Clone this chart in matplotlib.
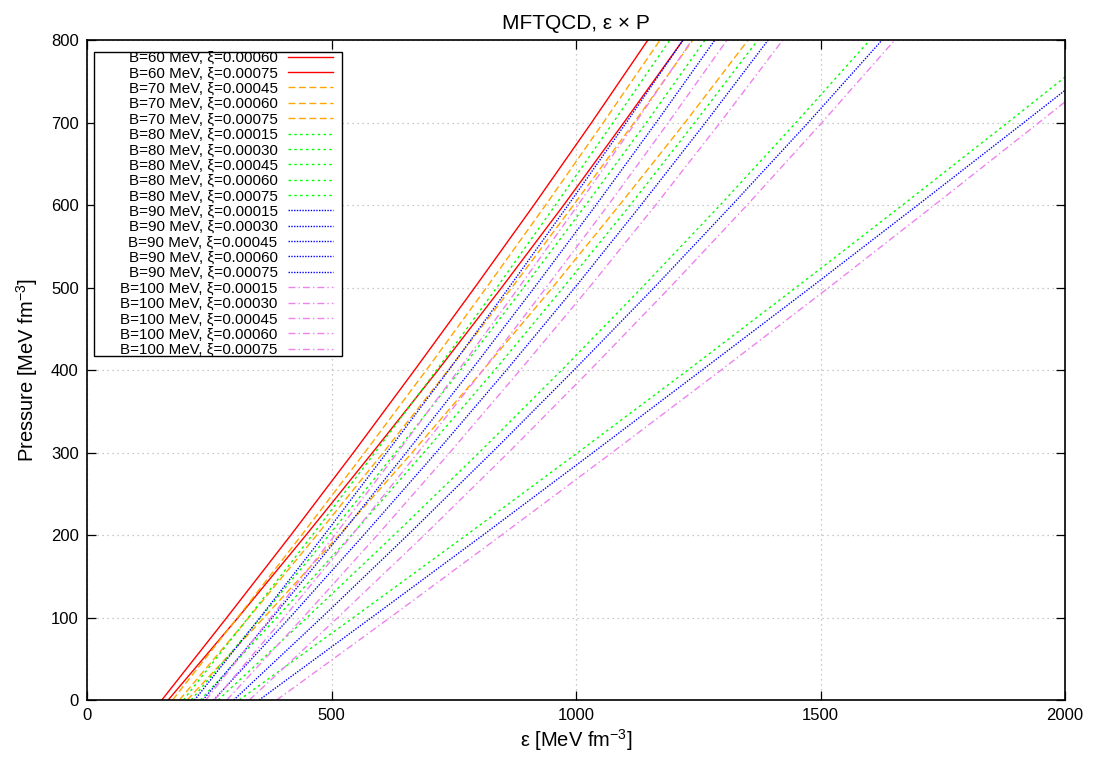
import matplotlib
matplotlib.use("Agg")
import matplotlib.pyplot as plt
from matplotlib.patches import Rectangle

plt.rcParams['font.family'] = ['Liberation Sans', 'DejaVu Sans']
plt.rcParams['mathtext.fontset'] = 'custom'
plt.rcParams['mathtext.rm'] = 'Liberation Sans'
plt.rcParams['mathtext.it'] = 'Liberation Sans:italic'
plt.rcParams['mathtext.default'] = 'regular'

# ---------------- data (pressure levels and energy densities) ----------------
P_levels = [0, 100, 200, 300, 400, 500, 600, 700, 800]

eps_B60_x060 = [166, 309, 448, 584, 718, 848, 975, 1098, 1219]
eps_B60_x075 = [153, 286, 417, 545, 670, 793, 914, 1032, 1147]

eps_B70_x045 = [205, 362, 516, 665, 810, 952, 1089, 1223, 1352]
eps_B70_x060 = [189, 331, 470, 606, 739, 869, 995, 1119, 1239]
eps_B70_x075 = [175, 308, 439, 568, 694, 817, 938, 1056, 1172]

P_B80_x015 = [0, 100, 200, 300, 400, 500, 600, 700, 755]
eps_B80_x015 = [311, 545, 776, 1004, 1229, 1450, 1668, 1883, 2000]
eps_B80_x030 = [268, 450, 628, 802, 971, 1135, 1295, 1450, 1601]
eps_B80_x045 = [232, 388, 541, 689, 834, 974, 1111, 1243, 1372]
eps_B80_x060 = [213, 355, 495, 631, 764, 893, 1020, 1144, 1264]
eps_B80_x075 = [197, 330, 461, 589, 715, 838, 958, 1076, 1192]

P_B90_x015 = [0, 100, 200, 300, 400, 500, 600, 700, 739]
eps_B90_x015 = [352, 582, 810, 1035, 1258, 1480, 1699, 1916, 2000]
eps_B90_x030 = [300, 480, 656, 828, 996, 1160, 1319, 1475, 1626]
eps_B90_x045 = [259, 415, 566, 714, 858, 998, 1133, 1265, 1393]
eps_B90_x060 = [237, 379, 518, 653, 786, 915, 1041, 1164, 1284]
eps_B90_x075 = [220, 354, 485, 613, 740, 863, 984, 1103, 1219]

P_B100_x015 = [0, 100, 200, 300, 400, 500, 600, 700, 725]
eps_B100_x015 = [388, 620, 848, 1074, 1297, 1517, 1733, 1947, 2000]
eps_B100_x030 = [332, 513, 690, 862, 1029, 1192, 1350, 1503, 1652]
eps_B100_x045 = [286, 442, 594, 742, 886, 1027, 1163, 1295, 1423]
eps_B100_x060 = [261, 403, 542, 677, 810, 939, 1066, 1189, 1309]
eps_B100_x075 = [243, 376, 507, 635, 760, 883, 1004, 1122, 1237]

labels = [
    "B=60 MeV, ξ=0.00060", "B=60 MeV, ξ=0.00075",
    "B=70 MeV, ξ=0.00045", "B=70 MeV, ξ=0.00060", "B=70 MeV, ξ=0.00075",
    "B=80 MeV, ξ=0.00015", "B=80 MeV, ξ=0.00030", "B=80 MeV, ξ=0.00045",
    "B=80 MeV, ξ=0.00060", "B=80 MeV, ξ=0.00075",
    "B=90 MeV, ξ=0.00015", "B=90 MeV, ξ=0.00030", "B=90 MeV, ξ=0.00045",
    "B=90 MeV, ξ=0.00060", "B=90 MeV, ξ=0.00075",
    "B=100 MeV, ξ=0.00015", "B=100 MeV, ξ=0.00030", "B=100 MeV, ξ=0.00045",
    "B=100 MeV, ξ=0.00060", "B=100 MeV, ξ=0.00075",
]

series = [
    (eps_B60_x060, P_levels, 'B60'), (eps_B60_x075, P_levels, 'B60'),
    (eps_B70_x045, P_levels, 'B70'), (eps_B70_x060, P_levels, 'B70'),
    (eps_B70_x075, P_levels, 'B70'),
    (eps_B80_x015, P_B80_x015, 'B80'), (eps_B80_x030, P_levels, 'B80'),
    (eps_B80_x045, P_levels, 'B80'), (eps_B80_x060, P_levels, 'B80'),
    (eps_B80_x075, P_levels, 'B80'),
    (eps_B90_x015, P_B90_x015, 'B90'), (eps_B90_x030, P_levels, 'B90'),
    (eps_B90_x045, P_levels, 'B90'), (eps_B90_x060, P_levels, 'B90'),
    (eps_B90_x075, P_levels, 'B90'),
    (eps_B100_x015, P_B100_x015, 'B100'), (eps_B100_x030, P_levels, 'B100'),
    (eps_B100_x045, P_levels, 'B100'), (eps_B100_x060, P_levels, 'B100'),
    (eps_B100_x075, P_levels, 'B100'),
]

styles = {
    'B60': dict(color='#ff0000', linestyle='-'),
    'B70': dict(color='#ffa500', linestyle=(0, (5, 2.5))),
    'B80': dict(color='#00ff00', linestyle=(0, (1.8, 2.4))),
    'B90': dict(color='#0000ff', linestyle=(0, (1.0, 1.0))),
    'B100': dict(color='#ee82ee', linestyle=(0, (5, 2.2, 1, 2.2))),
}

# ---------------- figure ----------------
W, H = 1094, 758
fig = plt.figure(figsize=(W / 100, H / 100), dpi=100)
ax = fig.add_axes([87 / W, 58 / H, 978 / W, 660 / H])

handles = []
for (eps, P, key), lab in zip(series, labels):
    h, = ax.plot(eps, P, lw=1.0, label=lab, **styles[key])
    handles.append(h)

ax.set_xlim(0, 2000)
ax.set_ylim(0, 800)
ax.set_xticks([0, 500, 1000, 1500, 2000])
ax.set_yticks(list(range(0, 801, 100)))
ax.tick_params(direction='in', length=6.5, width=0.9, top=True, right=True,
               labelsize=12, pad=6)
ax.grid(True, color='#b8b8b8', linestyle=(0, (1, 3)), linewidth=0.9)
for s in ax.spines.values():
    s.set_linewidth(1.2)

ax.set_title("MFTQCD, ε × P", fontsize=15, pad=8)
ax.set_xlabel(r"ε [MeV fm$^{-3}$]", fontsize=14.5, labelpad=3)
ax.set_ylabel(r"Pressure [MeV fm$^{-3}$]", fontsize=14.5, labelpad=8)

# legend box (gnuplot style, text right-aligned, sample on the right)
box = Rectangle((7 / 978, (700 - 356) / 660), 248 / 978, 304 / 660,
                transform=ax.transAxes, facecolor='white', edgecolor='black',
                linewidth=1.0, zorder=4.5)
ax.add_patch(box)
leg = ax.legend(handles=handles, loc='upper right',
                bbox_to_anchor=((333 - 87) / 978, (700 - 51.0) / 660),
                borderaxespad=0, borderpad=0, frameon=False,
                markerfirst=False, fontsize=10.9, labelspacing=0.09,
                handlelength=3.0, handletextpad=0.66)
leg.set_zorder(5)

fig.savefig("out.png", dpi=100)
